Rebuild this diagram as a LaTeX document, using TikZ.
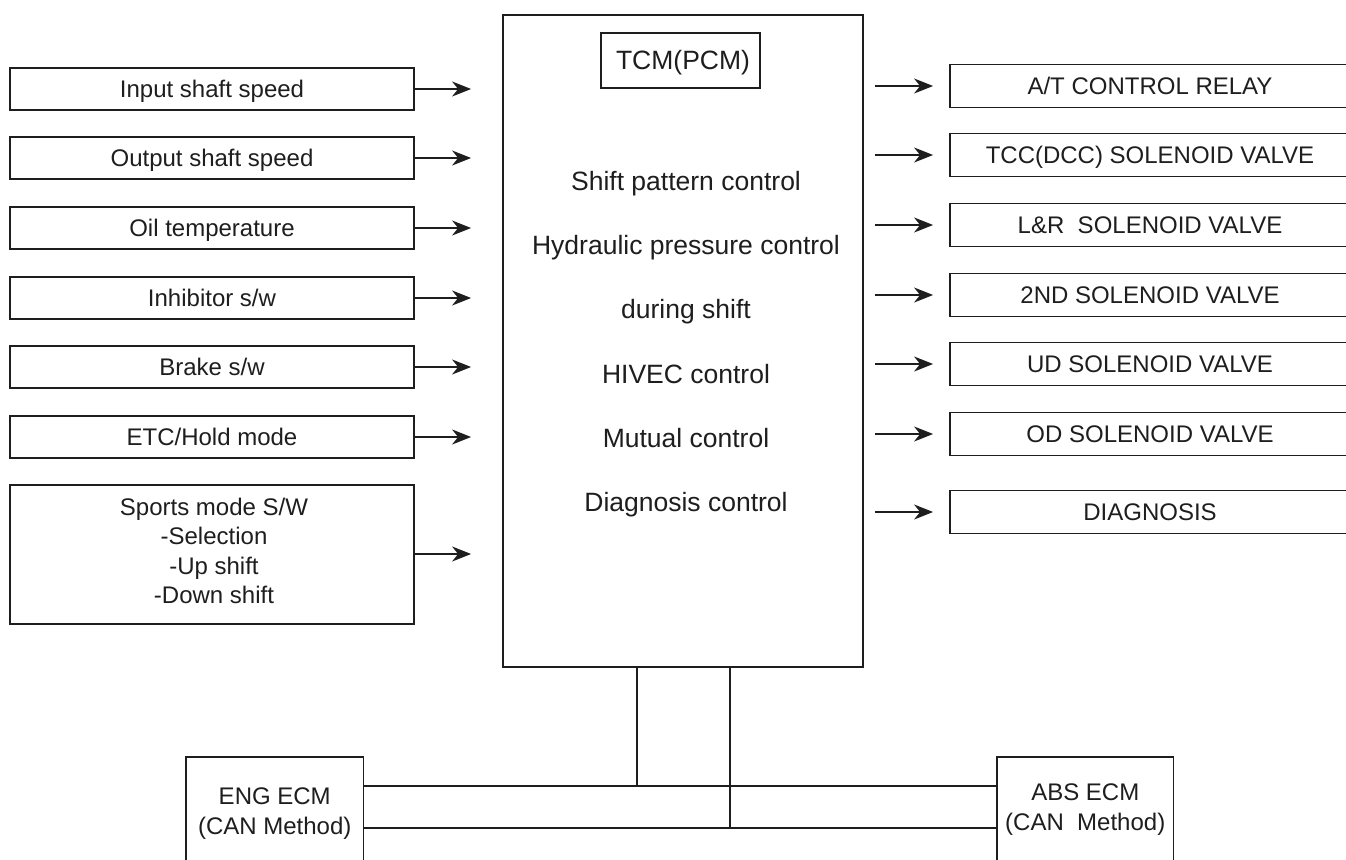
\documentclass[tikz,border=0pt]{standalone}
\usepackage{fontspec}
\setmainfont{Liberation Sans}
\usetikzlibrary{arrows.meta}
\definecolor{ink}{HTML}{1E1E1E}
\begin{document}
\begin{tikzpicture}[x=1pt,y=-1pt,
  every node/.style={font=\fontsize{24}{29.5}\selectfont, text=ink},
  box/.style={draw=ink, line width=1.8pt, rectangle, inner sep=0pt, text height=17pt, text depth=0pt},
  mbox/.style={draw=ink, line width=1.8pt, rectangle, inner sep=0pt, align=center},
  lbox/.style={box, minimum width=404pt, minimum height=42.5pt},
  rbox/.style={box, minimum width=400pt, minimum height=43pt},
  big/.style={font=\fontsize{26.5}{32}\selectfont, text height=19pt, text depth=0pt},
  func/.style={big, inner sep=0pt},
  arr/.style={draw=ink, line width=1.7pt, -{Stealth[length=19pt, width=15pt, inset=6pt]}},
  bus/.style={draw=ink, line width=1.3pt},
  busw/.style={draw=ink, line width=1.8pt}
]
\useasboundingbox (0,0) rectangle (1346,859);
\clip (0,0) rectangle (1346,859);
\fill[white] (0,0) rectangle (1346,859);

% central TCM box
\node[box, minimum width=360pt, minimum height=652pt] (tcm) at (683,341) {};
\node[box, big, minimum width=159pt, minimum height=55pt] (tcml) at (680.5,60.5) {\hspace*{5pt}TCM(PCM)};
\node[func] (f1) at (686,180.5) {Shift pattern control};
\node[func] (f2) at (686,245) {Hydraulic pressure control};
\node[func] (f3) at (686,309) {during shift};
\node[func] (f4) at (686,374) {HIVEC control};
\node[func] (f5) at (686,438) {Mutual control};
\node[func] (f6) at (686,502) {Diagnosis control};

% inputs
\node[lbox] (in1) at (212,89) {Input shaft speed};
\node[lbox] (in2) at (212,158) {Output shaft speed};
\node[lbox] (in3) at (212,228) {Oil temperature};
\node[lbox] (in4) at (212,298) {Inhibitor s/w};
\node[lbox] (in5) at (212,367) {Brake s/w};
\node[lbox] (in6) at (212,437) {ETC/Hold mode};
\node[mbox, minimum width=404pt, minimum height=139pt] (in7) at (212,554.5) {};
\node[align=center, inner sep=0pt] (in7t) at (214,551)
  {Sports mode S/W\\-Selection\\-Up shift\\-Down shift};

\foreach \n in {in1,in2,in3,in4,in5,in6}
  \draw[arr] (\n.east) -- ([xshift=-31pt]tcm.west |- \n.east);
\draw[arr] ([yshift=0.5pt]in7.east) -- ([xshift=-31pt,yshift=0.5pt]tcm.west |- in7.east);

% outputs
\node[rbox] (out1) at (1150,86) {A/T CONTROL RELAY};
\node[rbox] (out2) at (1150,155) {TCC(DCC) SOLENOID VALVE};
\node[rbox] (out3) at (1150,225) {L\&R\ \ SOLENOID VALVE};
\node[rbox] (out4) at (1150,295) {2ND SOLENOID VALVE};
\node[rbox] (out5) at (1150,364) {UD SOLENOID VALVE};
\node[rbox] (out6) at (1150,434) {OD SOLENOID VALVE};
\node[rbox] (out7) at (1150,512) {DIAGNOSIS};

\foreach \n in {out1,out2,out3,out4,out5,out6,out7}
  \draw[arr] ([xshift=11pt]tcm.east |- \n.west) -- ([xshift=-16pt]\n.west);

% CAN bus
\node[mbox, minimum width=177.5pt, minimum height=113pt] (eng) at (274.75,813.5) {ENG ECM\\(CAN Method)};
\node[mbox, minimum width=176.5pt, minimum height=105pt] (abs) at (1085.25,809.5) {ABS ECM\\(CAN\ \ Method)};
\coordinate (va) at (637,786);
\coordinate (vb) at (730,828);
\draw[bus] (tcm.south -| va) -- (va);
\draw[bus] (tcm.south -| vb) -- (vb);
\draw[busw] (eng.east |- va) -- (abs.west |- va);
\draw[busw] (eng.east |- vb) -- (abs.west |- vb);
\end{tikzpicture}
\end{document}
